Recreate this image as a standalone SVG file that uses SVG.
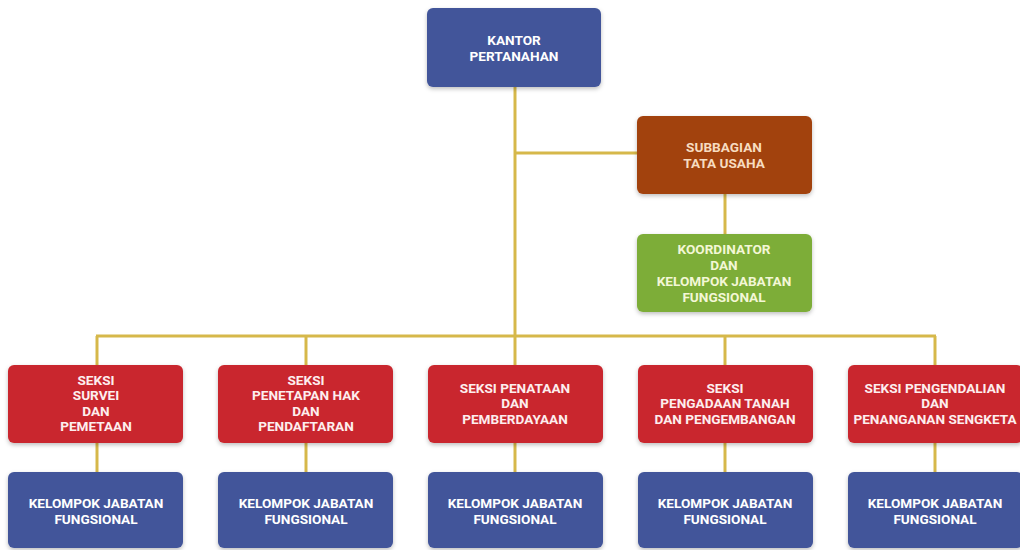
<svg xmlns="http://www.w3.org/2000/svg" width="1020" height="550" viewBox="0 0 1020 550">
<defs>
<filter id="sh" x="-10%" y="-10%" width="120%" height="130%">
<feDropShadow dx="0" dy="2" stdDeviation="2" flood-color="#000" flood-opacity="0.25"/>
</filter>
</defs>
<style>
.box{filter:url(#sh);}
.blue{fill:#42559a;}
.brown{fill:#a2420c;}
.green{fill:#7dad37;}
.red{fill:#c9282d;}
text{font-family:Roboto,"Liberation Sans",sans-serif;font-weight:bold;font-size:13.6px;text-anchor:middle;fill:#ffffff;}
.tb{fill:#f7dcc0;}
.tg{fill:#f3f7d6;}
.tr{fill:#fdeeee;}
.conn line{stroke:#d6b84a;stroke-width:3;}
</style>
<rect width="1020" height="550" fill="#ffffff"/>
<g id="connectors" class="conn">
<line x1="515" y1="86" x2="515" y2="337"/>
<line x1="515" y1="153" x2="638" y2="153"/>
<line x1="725" y1="192" x2="725" y2="235"/>
<line x1="96" y1="336" x2="936" y2="336"/>
<line x1="97" y1="336" x2="97" y2="366"/>
<line x1="306" y1="336" x2="306" y2="366"/>
<line x1="515" y1="336" x2="515" y2="366"/>
<line x1="725" y1="336" x2="725" y2="366"/>
<line x1="935" y1="336" x2="935" y2="366"/>
<line x1="97" y1="442" x2="97" y2="473"/>
<line x1="306" y1="442" x2="306" y2="473"/>
<line x1="515" y1="442" x2="515" y2="473"/>
<line x1="725" y1="442" x2="725" y2="473"/>
<line x1="935" y1="442" x2="935" y2="473"/>
</g>
<g id="kantor">
<rect class="box blue" x="427" y="8" width="174" height="79" rx="6"/>
<text x="514" y="45">KANTOR</text>
<text x="514" y="61">PERTANAHAN</text>
</g>
<g id="subbagian">
<rect class="box brown" x="637" y="116" width="175" height="78" rx="6"/>
<text class="tb" x="724" y="152">SUBBAGIAN</text>
<text class="tb" x="724" y="168">TATA USAHA</text>
</g>
<g id="koordinator">
<rect class="box green" x="637" y="234" width="175" height="78" rx="6"/>
<text class="tg" x="724" y="254">KOORDINATOR</text>
<text class="tg" x="724" y="270">DAN</text>
<text class="tg" x="724" y="286">KELOMPOK JABATAN</text>
<text class="tg" x="724" y="302">FUNGSIONAL</text>
</g>
<g id="seksi1">
<rect class="box red" x="8" y="365" width="175" height="78" rx="6"/>
<text class="tr" x="96" y="385">SEKSI</text>
<text class="tr" x="96" y="400">SURVEI</text>
<text class="tr" x="96" y="416">DAN</text>
<text class="tr" x="96" y="431">PEMETAAN</text>
</g>
<g id="seksi2">
<rect class="box red" x="218" y="365" width="175" height="78" rx="6"/>
<text class="tr" x="306" y="385">SEKSI</text>
<text class="tr" x="306" y="400">PENETAPAN HAK</text>
<text class="tr" x="306" y="416">DAN</text>
<text class="tr" x="306" y="431">PENDAFTARAN</text>
</g>
<g id="seksi3">
<rect class="box red" x="428" y="365" width="175" height="78" rx="6"/>
<text class="tr" x="515" y="393">SEKSI PENATAAN</text>
<text class="tr" x="515" y="408">DAN</text>
<text class="tr" x="515" y="424">PEMBERDAYAAN</text>
</g>
<g id="seksi4">
<rect class="box red" x="638" y="365" width="175" height="78" rx="6"/>
<text class="tr" x="725" y="393">SEKSI</text>
<text class="tr" x="725" y="408">PENGADAAN TANAH</text>
<text class="tr" x="725" y="424">DAN PENGEMBANGAN</text>
</g>
<g id="seksi5">
<rect class="box red" x="848" y="365" width="175" height="78" rx="6"/>
<text class="tr" x="935" y="393">SEKSI PENGENDALIAN</text>
<text class="tr" x="935" y="408">DAN</text>
<text class="tr" x="935" y="424">PENANGANAN SENGKETA</text>
</g>
<g id="kjf1">
<rect class="box blue" x="8" y="472" width="175" height="76" rx="6"/>
<text x="96" y="508">KELOMPOK JABATAN</text>
<text x="96" y="524">FUNGSIONAL</text>
</g>
<g id="kjf2">
<rect class="box blue" x="218" y="472" width="175" height="76" rx="6"/>
<text x="306" y="508">KELOMPOK JABATAN</text>
<text x="306" y="524">FUNGSIONAL</text>
</g>
<g id="kjf3">
<rect class="box blue" x="428" y="472" width="175" height="76" rx="6"/>
<text x="515" y="508">KELOMPOK JABATAN</text>
<text x="515" y="524">FUNGSIONAL</text>
</g>
<g id="kjf4">
<rect class="box blue" x="638" y="472" width="175" height="76" rx="6"/>
<text x="725" y="508">KELOMPOK JABATAN</text>
<text x="725" y="524">FUNGSIONAL</text>
</g>
<g id="kjf5">
<rect class="box blue" x="848" y="472" width="175" height="76" rx="6"/>
<text x="935" y="508">KELOMPOK JABATAN</text>
<text x="935" y="524">FUNGSIONAL</text>
</g>
</svg>
